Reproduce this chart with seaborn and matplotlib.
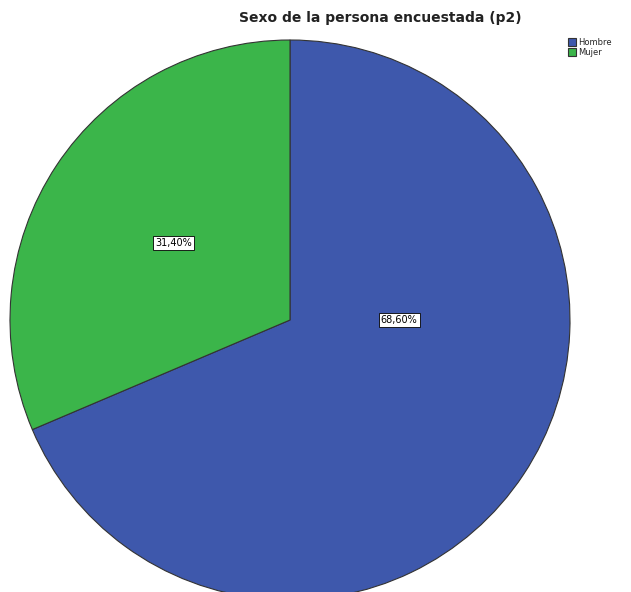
import seaborn as sns
import matplotlib.pyplot as plt

# Data
categories = ['Hombre', 'Mujer']
percentages = [68.6, 31.4]
colors = ['#3e58ac', '#3bb54a']

sns.set_style('white')
plt.rcParams['font.family'] = ['DejaVu Sans']

fig = plt.figure(figsize=(6.31, 5.92), dpi=100)
ax = fig.add_axes([10 / 631, -8 / 592, 560 / 631, 560 / 592])

wedges, texts, autotexts = ax.pie(
    percentages,
    colors=colors,
    startangle=90,
    counterclock=False,
    autopct=lambda p: '{:.2f}%'.format(p).replace('.', ','),
    pctdistance=0.5,
    wedgeprops={'edgecolor': '#333333', 'linewidth': 0.8},
)
ax.set_xlim(-1, 1)
ax.set_ylim(-1, 1)

for t in autotexts:
    t.set_fontsize(7)
    t.set_color('black')
    t.set_bbox({'facecolor': 'white', 'edgecolor': 'black', 'linewidth': 0.6, 'pad': 1.5})
# SPSS puts the big slice's label nearer the centre
autotexts[0].set_position((0.39, 0.0))

fig.text(380 / 631, 1 - 18 / 592, 'Sexo de la persona encuestada (p2)',
         ha='center', va='center', fontsize=10, fontweight='bold', color='#222222')

leg = fig.legend(wedges, categories, loc='upper left', bbox_to_anchor=(568 / 631, 1 - 38 / 592),
                 frameon=False, fontsize=6, handlelength=1.0, handleheight=1.0,
                 handletextpad=0.2, labelspacing=0.1, borderpad=0, borderaxespad=0)

fig.savefig('out.png', dpi=100)
